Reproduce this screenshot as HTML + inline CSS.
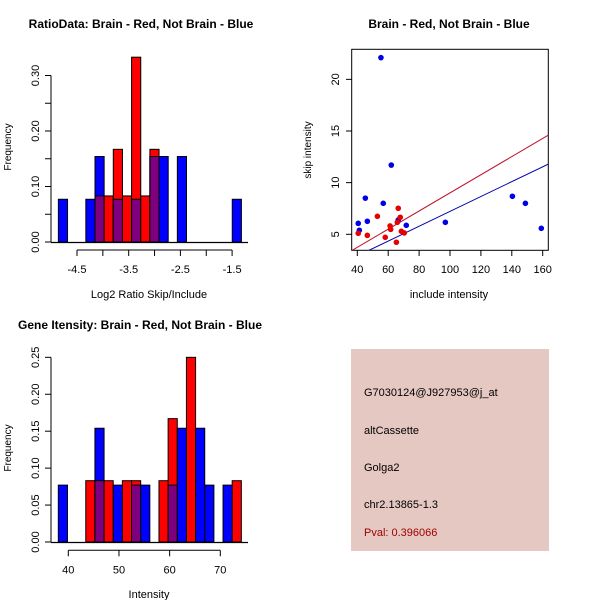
<!DOCTYPE html>
<html><head><meta charset="utf-8"><style>
html,body{margin:0;padding:0;background:#fff;width:600px;height:600px;overflow:hidden}
svg text{font-family:"Liberation Sans",sans-serif}
</style></head><body>
<svg id="c" width="600" height="600" xmlns="http://www.w3.org/2000/svg"></svg>
<script>
// ---- Data: ratio histogram (20 bins) ----
const ratioBinStart = -4.86, ratioBinWidth = 0.177;
const ratioBlue = [0.077,0,0,0.077,0.154,0,0.077,0,0.077,0,0.154,0.154,0,0.154,0,0,0,0,0,0.077];
const ratioRed  = [0,0,0,0,0.083,0.083,0.167,0.083,0.333,0.083,0.167,0,0,0,0,0,0,0,0,0];
const ratioXTicks = [-4.5,-4,-3.5,-3,-2.5,-2,-1.5];
const ratioXLabels = ["-4.5","","-3.5","","-2.5","","-1.5"];
const ratioYTicks = [0,0.05,0.1,0.15,0.2,0.25,0.3];
const ratioYLabels = ["0.00","","0.10","","0.20","","0.30"];
// ---- Data: intensity histogram ----
const intBinStart = 38.03, intBinWidth = 1.806;
const intBlue = [0.077,0,0,0,0.154,0,0.077,0,0.077,0.077,0,0,0.077,0.154,0,0.154,0.077,0,0.077,0];
const intRed  = [0,0,0,0.083,0.083,0.083,0,0.083,0.083,0,0,0.083,0.167,0,0.25,0,0,0,0,0.083];
const intXTicks = [40,50,60,70];
const intYTicks = [0,0.05,0.1,0.15,0.2,0.25];
const intYLabels = ["0.00","0.05","0.10","0.15","0.20","0.25"];
// ---- Data: scatter ----
const blueX = [55.3,62,45.2,56.8,40.6,41.3,46.5,66.5,71.7,97,140.4,148.8,159.1];
const blueY = [22.1,11.7,8.5,8.0,6.06,5.39,6.26,6.39,5.87,6.16,8.68,8.0,5.58];
const redX = [40.6,46.5,53,58.1,61.2,61.6,65.3,65.9,66.5,67.8,68.5,70.4];
const redY = [5.1,4.9,6.74,4.71,5.81,5.48,4.23,6.16,7.52,6.65,5.29,5.13];
const redFit = [0.23,0.0878];
const blueFit = [0.03,0.0719];
const scXTicks = [40,60,80,100,120,140,160];
const scYTicks = [5,10,15,20];

const svg = document.getElementById('c');
const NS = 'http://www.w3.org/2000/svg';
function mk(tag, attrs, parent){
  const e = document.createElementNS(NS, tag);
  for (const k in attrs) e.setAttribute(k, attrs[k]);
  (parent||svg).appendChild(e);
  return e;
}
function txt(s, x, y, opts, parent){
  const t = mk('text', Object.assign({x:x, y:y, 'font-size':11, 'text-anchor':'middle', fill:'#000'}, opts||{}), parent);
  t.textContent = s;
  return t;
}

function histogram(name, g, sx, sy, start, w, blue, red, x0, x1){
  const n = Math.max(blue.length, red.length);
  for (let i=0;i<n;i++){
    const a = start + i*w, b = a + w;
    const vb = blue[i]||0, vr = red[i]||0;
    const xa = sx(a), xb = sx(b);
    if (vb>0){
      const r = mk('rect',{x:xa,y:sy(vb),width:xb-xa,height:sy(0)-sy(vb),fill:'#0000ff',stroke:'#000','stroke-width':1},g);
      
      
    }
    if (vr>0){
      const r = mk('rect',{x:xa,y:sy(vr),width:xb-xa,height:sy(0)-sy(vr),fill:'#ff0000',stroke:'#000','stroke-width':1},g);
      
      
    }
    if (vb>0 && vr>0){
      const m = Math.min(vb,vr);
      const r = mk('rect',{x:xa,y:sy(m),width:xb-xa,height:sy(0)-sy(m),fill:'#7f007f',stroke:'#000','stroke-width':1},g);
      
      
    }
  }
  mk('line',{x1:x0,x2:x1,y1:sy(0)+0.5,y2:sy(0)+0.5,stroke:'#000','stroke-width':1.2},g);
}

function yAxis(g, sy, x, ticks, labels){
  mk('line',{x1:x,x2:x,y1:sy(ticks[0]),y2:sy(ticks[ticks.length-1]),stroke:'#000'},g);
  ticks.forEach((t,i)=>{
    mk('line',{x1:x-6,x2:x,y1:sy(t),y2:sy(t),stroke:'#000'},g);
    if (labels[i]) {
      txt(labels[i], 0, 0, {transform:'translate('+(x-12)+','+sy(t)+') rotate(-90)'}, g);
    }
  });
}
function xAxis(g, sx, y, ticks, labels){
  mk('line',{x1:sx(ticks[0]),x2:sx(ticks[ticks.length-1]),y1:y,y2:y,stroke:'#000'},g);
  ticks.forEach((t,i)=>{
    mk('line',{x1:sx(t),x2:sx(t),y1:y,y2:y+6,stroke:'#000'},g);
    if (labels[i]) txt(labels[i], sx(t), y+23, {}, g);
  });
}

// ---- Panel 1 ----
{
  const g = mk('g',{});
  
  
  const sx = v => 77 + (v + 4.5) * 51.7;
  const sy = v => 242 - v * 555;
  histogram('ratio', g, sx, sy, ratioBinStart, ratioBinWidth, ratioBlue, ratioRed, 51, 248);
  yAxis(g, sy, 51, ratioYTicks, ratioYLabels);
  xAxis(g, sx, 250, ratioXTicks, ratioXLabels);
  const t = txt('RatioData: Brain - Red, Not Brain - Blue', 141, 28, {'font-weight':'bold','font-size':12}, g);
   
  const xl = txt('Log2 Ratio Skip/Include', 149, 298, {}, g);
   
  const yl = txt('Frequency', 0, 0, {transform:'translate(11,147) rotate(-90)','font-size':10}, g);
   
}
// ---- Panel 2 scatter ----
{
  const g = mk('g',{});
  
  
  const sx = v => 357.3 + (v - 40) * 1.545;
  const sy = v => 234.3 - (v - 5) * 10.33;
  const box = mk('rect',{x:351.7,y:49.3,width:196.6,height:201,fill:'none',stroke:'#000'},g);
   
  const clip = mk('clipPath',{id:'scclip'},g);
  mk('rect',{x:351.7,y:49.3,width:196.6,height:201},clip);
  const xmin = 36.3, xmax = 163.7;
  const rl = mk('line',{x1:sx(xmin),y1:sy(redFit[0]+redFit[1]*xmin),x2:sx(xmax),y2:sy(redFit[0]+redFit[1]*xmax),stroke:'#c0102a','clip-path':'url(#scclip)'},g);
   
  const bl = mk('line',{x1:sx(xmin),y1:sy(blueFit[0]+blueFit[1]*xmin),x2:sx(xmax),y2:sy(blueFit[0]+blueFit[1]*xmax),stroke:'#0000b0','clip-path':'url(#scclip)'},g);
   
  blueX.forEach((x,i)=>{
    const c = mk('circle',{cx:sx(x),cy:sy(blueY[i]),r:2.8,fill:'#0000e6'},g);
    
    
  });
  redX.forEach((x,i)=>{
    const c = mk('circle',{cx:sx(x),cy:sy(redY[i]),r:2.8,fill:'#e60000'},g);
    
    
  });
  scXTicks.forEach(t=>{
    mk('line',{x1:sx(t),x2:sx(t),y1:250.3,y2:256,stroke:'#000'},g);
    txt(String(t), sx(t), 273, {}, g);
  });
  scYTicks.forEach(t=>{
    mk('line',{x1:346,x2:351.7,y1:sy(t),y2:sy(t),stroke:'#000'},g);
    txt(String(t), 0, 0, {transform:'translate(339,'+sy(t)+') rotate(-90)'}, g);
  });
  const t = txt('Brain - Red, Not Brain - Blue', 449, 28, {'font-weight':'bold','font-size':12}, g);
   
  const xl = txt('include intensity', 449, 298, {}, g);
   
  const yl = txt('skip intensity', 0, 0, {transform:'translate(311,150) rotate(-90)','font-size':10}, g);
   
}
// ---- Panel 3 ----
{
  const g = mk('g',{});
  
  
  const sx = v => 68.3 + (v - 40) * 5.067;
  const sy = v => 542 - v * 738.7;
  histogram('intensity', g, sx, sy, intBinStart, intBinWidth, intBlue, intRed, 51, 248);
  yAxis(g, sy, 51, intYTicks, intYLabels);
  xAxis(g, sx, 550.3, intXTicks, intXTicks.map(String));
  const t = txt('Gene Itensity: Brain - Red, Not Brain - Blue', 140, 329, {'font-weight':'bold','font-size':12}, g);
   
  const xl = txt('Intensity', 149, 598, {}, g);
   
  const yl = txt('Frequency', 0, 0, {transform:'translate(11,448) rotate(-90)','font-size':10}, g);
   
}
</script>
<!-- Info panel -->
<svg width="600" height="600" style="position:absolute;left:0;top:0" xmlns="http://www.w3.org/2000/svg">
  <rect x="351" y="349" width="198" height="202" fill="#e6c8c2"/>
  <text x="364" y="396" font-size="11" fill="#000">G7030124@J927953@j_at</text>
  <text x="364" y="434" font-size="11" fill="#000">altCassette</text>
  <text x="364" y="471" font-size="11" fill="#000">Golga2</text>
  <text x="364" y="508" font-size="11" fill="#000">chr2.13865-1.3</text>
  <text x="364" y="536" font-size="11" fill="#a00000">Pval: 0.396066</text>
</svg>
</body></html>
